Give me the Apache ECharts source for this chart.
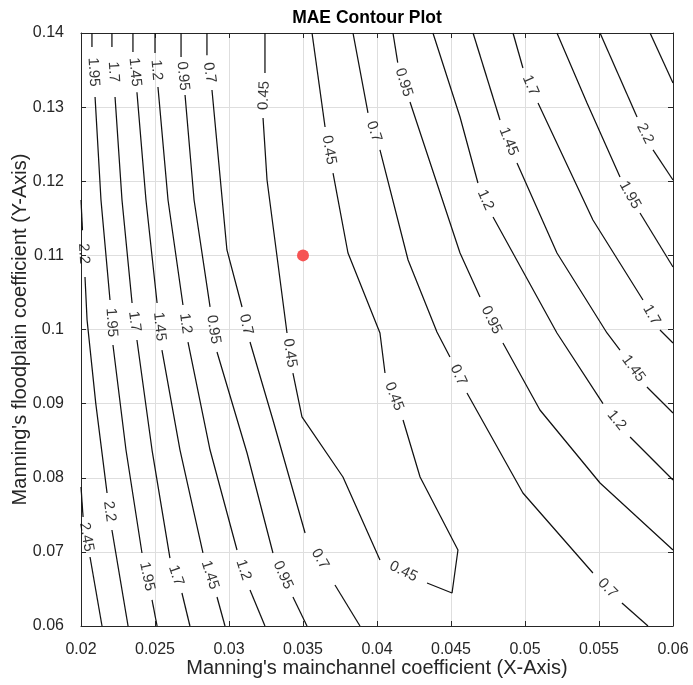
<!DOCTYPE html>
<html><head><meta charset="utf-8">
<script src="https://cdn.jsdelivr.net/npm/echarts@6/dist/echarts.min.js"></script>
<style>html,body{margin:0;padding:0;background:#fff}#c{width:693px;height:685px}</style>
</head><body><div id="c"></div>
<script>
const chartTitle = 'MAE Contour Plot';
const xName = "Manning's mainchannel coefficient (X-Axis)";
const yName = "Manning's floodplain coefficient (Y-Axis)";
const xTicks = [0.02, 0.025, 0.03, 0.035, 0.04, 0.045, 0.05, 0.055, 0.06];
const yTicks = [0.06, 0.07, 0.08, 0.09, 0.1, 0.11, 0.12, 0.13, 0.14];
const markerPoint = [0.035, 0.11];

// Each contour: list of line pieces; a level label sits in each gap between pieces.
const c245L = [[[0.0200,0.07875],[0.02014,0.0747]], [[0.02061,0.06931],[0.02142,0.06]]];
const c22L  = [[[0.0200,0.11747],[0.0201,0.11340]], [[0.02027,0.10708],[0.02041,0.10128],[0.02100,0.0900],[0.02176,0.07794]], [[0.02209,0.07295],[0.02318,0.06]]];
const c195L = [[[0.02074,0.14],[0.02074,0.13811]], [[0.02095,0.13137],[0.02135,0.11747],[0.02196,0.10398]], [[0.02216,0.09791],[0.02304,0.08374],[0.02412,0.06985]], [[0.0248,0.06351],[0.02514,0.06]]];
const c17L  = [[[0.02209,0.14],[0.02209,0.13811]], [[0.0223,0.13137],[0.02277,0.11747],[0.02345,0.10358]], [[0.02378,0.09858],[0.0248,0.08374],[0.02601,0.06917]], [[0.02682,0.06445],[0.02736,0.06]]];
const c145L = [[[0.02351,0.14],[0.02351,0.13743]], [[0.02378,0.1320],[0.02439,0.11747],[0.02514,0.10358]], [[0.02547,0.09723],[0.02669,0.08374],[0.02824,0.06985]], [[0.02919,0.06391],[0.02973,0.06]]];
const c12L  = [[[0.0250,0.14],[0.0250,0.1373]], [[0.0252,0.13271],[0.02588,0.11747],[0.02689,0.10331]], [[0.02723,0.09831],[0.02872,0.08374],[0.03054,0.07025]], [[0.03142,0.06486],[0.03243,0.06]]];
const c095L = [[[0.02676,0.14],[0.02676,0.13676]], [[0.02703,0.13163],[0.02764,0.11747],[0.02872,0.10304]], [[0.02919,0.09696],[0.03122,0.08334],[0.03297,0.06985]], [[0.03432,0.06391],[0.03527,0.06]]];
const c07L  = [[[0.02851,0.14],[0.02851,0.1370]], [[0.02885,0.13231],[0.02986,0.11073],[0.03088,0.10304]], [[0.03142,0.09831],[0.03297,0.08779],[0.03514,0.07255]], [[0.03716,0.06553],[0.03885,0.06]]];
const c045  = [[[0.03243,0.14],[0.03243,0.1346]], [[0.0323,0.12853],[0.03257,0.12017],[0.03392,0.09953]], [[0.03432,0.09413],[0.03493,0.0882],[0.0377,0.0801],[0.0402,0.0689]], [[0.04338,0.0658],[0.04507,0.06445],[0.04547,0.07025],[0.04291,0.0801],[0.04176,0.08779]], [[0.04054,0.09413],[0.04020,0.09953],[0.03804,0.11032],[0.03703,0.12111]], [[0.03649,0.12732],[0.03561,0.14]]];
const c07R  = [[[0.03838,0.14],[0.03939,0.12921]], [[0.0402,0.12422],[0.0421,0.10938],[0.04405,0.09966],[0.04493,0.09629]], [[0.04608,0.09143],[0.04986,0.07794],[0.05459,0.06715]], [[0.05655,0.0631],[0.05831,0.06]]];
const c095R = [[[0.04108,0.14],[0.0414,0.1360]], [[0.04223,0.13069],[0.04561,0.11032],[0.04696,0.10438]], [[0.04851,0.09818],[0.05101,0.08914],[0.05507,0.07929],[0.06,0.07025]]];
const c12R  = [[[0.04378,0.14],[0.04561,0.12867],[0.04682,0.11976]], [[0.04784,0.11518],[0.05216,0.09953],[0.05527,0.0900]], [[0.0571,0.0855],[0.06,0.0797]]];
const c145R = [[[0.04649,0.14],[0.04831,0.12826]], [[0.04946,0.12246],[0.05216,0.11032],[0.05554,0.09953],[0.05642,0.09723]], [[0.05824,0.09224],[0.06,0.08874]]];
const c17R  = [[[0.04919,0.14],[0.04986,0.13528]], [[0.05088,0.13056],[0.05459,0.11477],[0.05797,0.10398]], [[0.05912,0.09993],[0.06,0.09818]]];
const c195R = [[[0.05216,0.14],[0.05419,0.13056],[0.05642,0.12057]], [[0.05777,0.11572],[0.06,0.10843]]];
const c22R  = [[[0.05507,0.14],[0.05757,0.12867]], [[0.05865,0.12422],[0.06,0.12017]]];
const c245R = [[[0.05845,0.14],[0.06,0.13325]]];

const contours = [
  ['2.45', c245L], ['2.2', c22L], ['1.95', c195L], ['1.7', c17L], ['1.45', c145L],
  ['1.2', c12L], ['0.95', c095L], ['0.7', c07L], ['0.45', c045], ['0.7', c07R],
  ['0.95', c095R], ['1.2', c12R], ['1.45', c145R], ['1.7', c17R], ['1.95', c195R],
  ['2.2', c22R], ['2.45', c245R]
];

const FONT = 'Liberation Sans, Arial, Helvetica, sans-serif';
const AX = '#262626';
const fmt = v => String(parseFloat(v.toFixed(4)));

const chart = echarts.init(document.getElementById('c'), null, {renderer: 'canvas'});

function axisCommon(min, max, step) {
  return { type: 'value', min: min, max: max, interval: step };
}

const series = [];
contours.forEach(([lvl, pieces]) => {
  pieces.forEach(p => series.push({
    type: 'line', data: p, showSymbol: false, silent: true, animation: false,
    lineStyle: { color: '#111', width: 1.25 }, z: 3
  }));
});

const baseOption = {
  animation: false,
  title: { text: chartTitle, left: 362, top: 4, textAlign: 'center',
    textStyle: { fontFamily: FONT, fontSize: 17.5, fontWeight: 'bold', color: '#000' } },
  grid: { left: 81, right: 20, top: 33, bottom: 59, containLabel: false, outerBoundsMode: 'none' },
  xAxis: [
    Object.assign(axisCommon(xTicks[0], xTicks[xTicks.length-1], xTicks[1]-xTicks[0]), {
      position: 'bottom', name: xName, nameLocation: 'middle', nameGap: 32, nameMoveOverlap: false,
      nameTextStyle: { fontFamily: FONT, fontSize: 20, color: AX },
      axisLine: { show: true, lineStyle: { color: AX, width: 1 } },
      axisTick: { show: true, inside: true, length: 5, lineStyle: { color: AX } },
      axisLabel: { fontFamily: FONT, fontSize: 16, color: AX, margin: 16, formatter: fmt },
      splitLine: { show: true, lineStyle: { color: '#dedede', width: 1 } }
    }),
    Object.assign(axisCommon(xTicks[0], xTicks[xTicks.length-1], xTicks[1]-xTicks[0]), {
      position: 'top',
      axisLine: { show: true, lineStyle: { color: AX, width: 1 } },
      axisTick: { show: true, inside: true, length: 5, lineStyle: { color: AX } },
      axisLabel: { show: false }, splitLine: { show: false }
    })
  ],
  yAxis: [
    Object.assign(axisCommon(yTicks[0], yTicks[yTicks.length-1], 0.01), {
      position: 'left', name: yName, nameLocation: 'middle', nameGap: 51, nameRotate: 90,
      nameMoveOverlap: false,
      nameTextStyle: { fontFamily: FONT, fontSize: 20, color: AX },
      axisLine: { show: true, lineStyle: { color: AX, width: 1 } },
      axisTick: { show: true, inside: true, length: 5, lineStyle: { color: AX } },
      axisLabel: { fontFamily: FONT, fontSize: 16, color: AX, margin: 17, formatter: fmt },
      splitLine: { show: true, lineStyle: { color: '#dedede', width: 1 } }
    }),
    Object.assign(axisCommon(yTicks[0], yTicks[yTicks.length-1], 0.01), {
      position: 'right',
      axisLine: { show: true, lineStyle: { color: AX, width: 1 } },
      axisTick: { show: true, inside: true, length: 5, lineStyle: { color: AX } },
      axisLabel: { show: false }, splitLine: { show: false }
    })
  ],
  series: series.concat([{
    type: 'scatter', data: [markerPoint], symbolSize: 12, silent: true,
    itemStyle: { color: '#f64a4a', opacity: 0.95 }, z: 5
  }])
};
chart.setOption(baseOption);

// labels: centred in each gap, rotated along the contour
const labelData = [];
contours.forEach(([lvl, pieces]) => {
  for (let i = 0; i < pieces.length - 1; i++) {
    const a = pieces[i][pieces[i].length - 1];
    const b = pieces[i + 1][0];
    const pa = chart.convertToPixel({ gridIndex: 0 }, a);
    const pb = chart.convertToPixel({ gridIndex: 0 }, b);
    let rot = -Math.atan2(pb[1] - pa[1], pb[0] - pa[0]) * 180 / Math.PI;
    while (rot > 90) rot -= 180;
    while (rot <= -90) rot += 180;
    labelData.push({ value: [(a[0] + b[0]) / 2, (a[1] + b[1]) / 2], name: lvl,
      label: { rotate: rot } });
  }
});
chart.setOption({
  series: baseOption.series.concat([{
    type: 'scatter', data: labelData, symbolSize: 0, silent: true, z: 4,
    label: { show: true, position: 'inside', formatter: p => p.name,
      fontFamily: FONT, fontSize: 15, color: '#000', align: 'center', verticalAlign: 'middle' }
  }])
});
</script></body></html>
